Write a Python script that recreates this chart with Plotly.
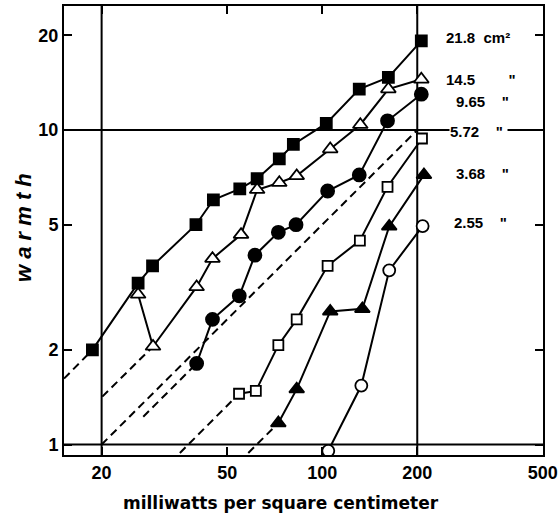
import math
import plotly.graph_objects as go

# Warmth vs. irradiance for six stimulus areas (log-log)
area_21_8_x = [18.7, 26.1, 29.0, 39.8, 45.2, 54.8, 62.2, 73.1, 81.0, 103, 131, 162, 206]
area_21_8_y = [2.0, 3.26, 3.7, 5.0, 6.0, 6.5, 7.0, 8.1, 9.0, 10.5, 13.5, 14.7, 19.2]

area_14_5_x = [26.1, 29.1, 40.0, 44.9, 55.3, 62.2, 73.1, 83.0, 106, 132, 162, 206]
area_14_5_y = [3.0, 2.05, 3.17, 3.9, 4.65, 6.46, 6.8, 7.15, 8.7, 10.4, 13.5, 14.5]

area_9_65_x = [40.0, 44.9, 54.6, 61.2, 72.6, 82.6, 104, 131, 161, 206]
area_9_65_y = [1.81, 2.5, 2.97, 4.0, 4.73, 5.0, 6.4, 7.2, 10.7, 13.0]

area_5_72_x = [54.5, 61.6, 72.6, 83.0, 104, 131.6, 161, 207]
area_5_72_y = [1.45, 1.48, 2.07, 2.5, 3.7, 4.45, 6.6, 9.4]

area_3_68_x = [72.6, 83.0, 106, 134, 163, 210]
area_3_68_y = [1.17, 1.5, 2.65, 2.7, 4.94, 7.2]

area_2_55_x = [104.5, 133, 163, 208]
area_2_55_y = [0.955, 1.54, 3.58, 4.95]

# Dashed extrapolations toward lower intensities (start point -> series point index)
extrap_x0 = [15.2, 20.1, 27.1, 35.4, 58.3]
extrap_y0 = [1.62, 1.42, 1.226, 0.94, 0.94]
extrap_end_index = [0, 1, 0, 0, 0]

# Unit-slope reference line
reference_x = [20, 200]
reference_y = [1, 10]

# Reference grid lines
grid_x = [20, 200]
grid_y = [1, 10]

x_ticks = [20, 50, 100, 200, 500]
y_ticks = [1, 2, 5, 10, 20]

series = [
    ("21.8 cm²", area_21_8_x, area_21_8_y, "square", "black", 11),
    ("14.5", area_14_5_x, area_14_5_y, "triangle-up", "white", 13),
    ("9.65", area_9_65_x, area_9_65_y, "circle", "black", 13),
    ("5.72", area_5_72_x, area_5_72_y, "square", "white", 10),
    ("3.68", area_3_68_x, area_3_68_y, "triangle-up", "black", 13),
    ("2.55", area_2_55_x, area_2_55_y, "circle", "white", 12),
]

fig = go.Figure()

dash = "8px,5px"
for i, (x0, y0, k) in enumerate(zip(extrap_x0, extrap_y0, extrap_end_index)):
    sx, sy = series[i][1], series[i][2]
    fig.add_trace(go.Scatter(
        x=[x0, sx[k]], y=[y0, sy[k]], mode="lines",
        line=dict(color="black", width=2, dash=dash),
        hoverinfo="skip", showlegend=False,
    ))

fig.add_trace(go.Scatter(
    x=reference_x, y=reference_y, mode="lines",
    line=dict(color="black", width=2, dash=dash),
    hoverinfo="skip", showlegend=False,
))

for name, xs, ys, sym, fill, size in series:
    fig.add_trace(go.Scatter(
        x=xs, y=ys, mode="lines+markers", name=name,
        line=dict(color="black", width=2),
        marker=dict(symbol=sym, size=size, color=fill,
                    line=dict(color="black", width=1.8)),
        showlegend=False,
    ))

for gx in grid_x:
    fig.add_vline(x=gx, line=dict(color="black", width=2), layer="below")
for gy in grid_y:
    fig.add_hline(y=gy, line=dict(color="black", width=2), layer="below")

# Area labels on the right
label_font = dict(family="Liberation Sans", size=15, color="black")
right_labels = [
    ("<b>21.8  cm²</b>", 445, 38, False),
    ("<b>14.5        \"</b>", 445, 80, False),
    ("<b>9.65    \"</b>", 455, 101, False),
    ("<b>5.72    \" </b>", 449, 131, True),
    ("<b>3.68    \"</b>", 455, 173, False),
    ("<b>2.55    \"</b>", 453, 222, False),
]
W, H = 558, 517
L, R, T, B = 64, 15, 6, 62
pw, ph = W - L - R, H - T - B
for text, px, py, bg in right_labels:
    fig.add_annotation(
        text=text, xref="paper", yref="paper",
        x=(px - L) / pw, y=(H - B - py) / ph,
        xanchor="left", yanchor="middle", showarrow=False,
        font=label_font, bgcolor="white" if bg else None,
        borderpad=0,
    )

# Axis titles
fig.add_annotation(
    text="<b>milliwatts per square centimeter</b>", xref="paper", yref="paper",
    x=(281 - L) / pw, y=(H - B - 503) / ph, xanchor="center", yanchor="middle",
    showarrow=False, font=dict(family="DejaVu Sans", size=17, color="black"),
)
fig.add_annotation(
    text="<b><i>w a r m t h</i></b>", xref="paper", yref="paper",
    x=(23 - L) / pw, y=(H - B - 228) / ph, xanchor="center", yanchor="middle",
    textangle=-90, showarrow=False,
    font=dict(family="Liberation Sans", size=22, color="black"),
)

tick_font = dict(family="Liberation Sans", size=18, color="black", weight="bold")
fig.update_xaxes(
    type="log", range=[math.log10(15.2), math.log10(500.5)],
    tickvals=x_ticks, ticktext=[str(v) for v in x_ticks],
    ticks="inside", ticklen=8, tickwidth=2, tickcolor="black",
    showline=True, linecolor="black", linewidth=2, mirror="ticks",
    showgrid=False, zeroline=False, tickfont=tick_font, automargin=False,
)
fig.update_yaxes(
    type="log", range=[math.log10(0.926), math.log10(24.8)],
    tickvals=y_ticks, ticktext=[str(v) for v in y_ticks],
    ticks="inside", ticklen=8, tickwidth=2, tickcolor="black",
    showline=True, linecolor="black", linewidth=2, mirror="ticks",
    showgrid=False, zeroline=False, tickfont=tick_font, automargin=False,
)
fig.update_layout(
    width=W, height=H,
    margin=dict(l=L, r=R, t=T, b=B),
    paper_bgcolor="white", plot_bgcolor="white",
)

fig.write_html("out.html")
